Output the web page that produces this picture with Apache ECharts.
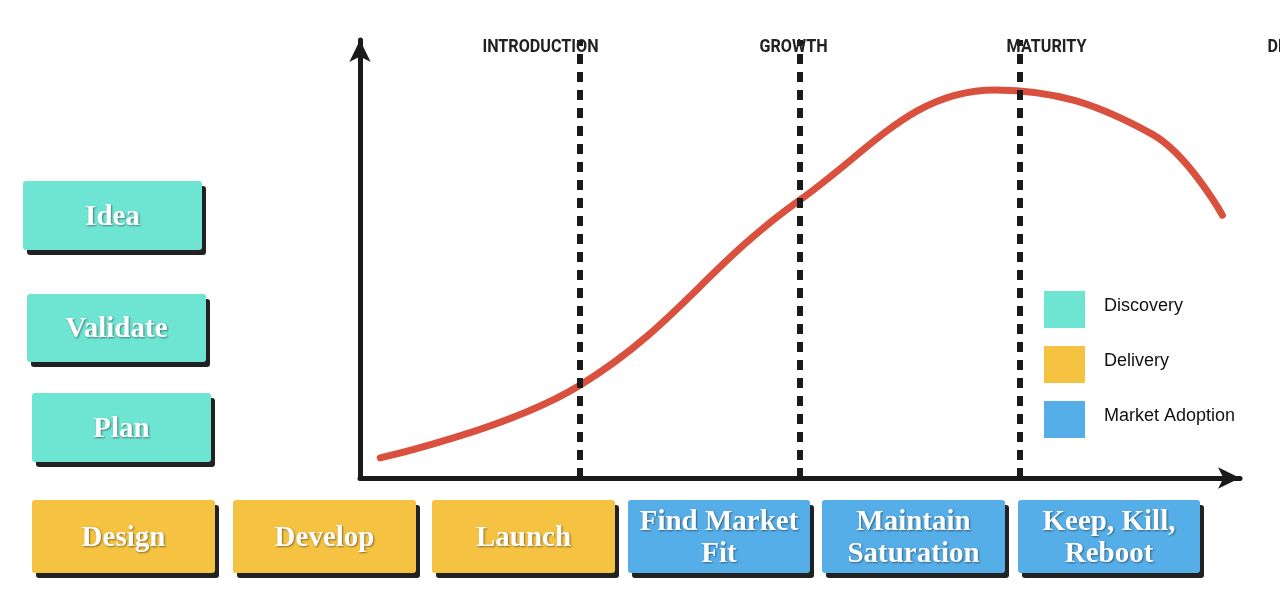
<!DOCTYPE html>
<html>
<head>
<meta charset="utf-8">
<script src="https://cdn.jsdelivr.net/npm/echarts@6/dist/echarts.min.js"></script>
<style>html,body{margin:0;background:#fff}#c{width:1280px;height:608px}</style>
</head>
<body>
<div id="c"></div>
<script>
// curve samples (x: time share, y: sales share)
const curveX = [2.3, 25, 50, 72.2, 90, 98]
const curveY = [4.6, 21.2, 63.5, 88.6, 78.5, 60]
const stageBounds = [25, 50, 75]
const stageNames = ['INTRODUCTION', 'GROWTH', 'MATURITY', 'DECLINE']
const boxLabels = ['Idea', 'Validate', 'Plan', 'Design', 'Develop', 'Launch', 'Find Market\nFit', 'Maintain\nSaturation', 'Keep, Kill,\nReboot']
const boxKinds = [0, 0, 0, 1, 1, 1, 2, 2, 2]
const legendNames = ['Discovery', 'Delivery', 'Market Adoption']

const colors = ['#6ee4d3', '#f5c242', '#56aee8']
// box rectangles [x, y, w, h]
const boxRects = [
  [23, 181, 179, 69], [27, 294, 179, 68], [32, 393, 179, 69],
  [32, 500, 183, 73], [233, 500, 183, 73], [432, 500, 183, 73],
  [628, 500, 182, 73], [822, 500, 183, 73], [1018, 500, 182, 73]
]

let graphic = []
boxRects.forEach((r, i) => {
  graphic.push({
    type: 'rect', shape: { x: r[0] + 4, y: r[1] + 5, width: r[2], height: r[3], r: 3 },
    style: { fill: '#222' }, z: 10
  })
  graphic.push({
    type: 'rect', shape: { x: r[0], y: r[1], width: r[2], height: r[3], r: 3 },
    style: { fill: colors[boxKinds[i]] }, z: 11
  })
  graphic.push({
    type: 'text', x: r[0] + r[2] / 2, y: r[1] + r[3] / 2 + 2, z: 12,
    style: {
      text: boxLabels[i], fill: '#fff', font: 'bold 29px "Liberation Serif"',
      align: 'center', verticalAlign: 'middle', lineHeight: 32,
      textShadowColor: 'rgba(0,0,0,0.45)', textShadowBlur: 2, textShadowOffsetX: 1, textShadowOffsetY: 1
    }
  })
})
stageNames.forEach((n, i) => {
  graphic.push({
    type: 'text', x: 470 + i * 220, y: 47, z: 12,
    style: { text: n, fill: '#222', font: 'bold 19px "Roboto"', align: 'center', verticalAlign: 'middle' },
    scaleX: 0.85, originX: 470 + i * 220
  })
})
legendNames.forEach((n, i) => {
  graphic.push({ type: 'rect', shape: { x: 1044, y: 291 + i * 55, width: 41, height: 37 }, style: { fill: colors[i] }, z: 12 })
  graphic.push({
    type: 'text', x: 1104, y: 306 + i * 55, z: 12,
    style: { text: n, fill: '#111', font: '18px "Liberation Sans"', verticalAlign: 'middle' }
  })
})

const chart = echarts.init(document.getElementById('c'))
chart.setOption({
  animation: false,
  grid: { left: 360, right: 40, top: 40, bottom: 130 },
  xAxis: {
    type: 'value', min: 0, max: 100,
    axisLine: { lineStyle: { color: '#1a1a1a', width: 5 }, symbol: ['none', 'arrow'], symbolSize: [16, 22] },
    axisTick: { show: false }, axisLabel: { show: false }, splitLine: { show: false }
  },
  yAxis: {
    type: 'value', min: 0, max: 100,
    axisLine: { show: true, lineStyle: { color: '#1a1a1a', width: 5 }, symbol: ['none', 'arrow'], symbolSize: [16, 22] },
    axisTick: { show: false }, axisLabel: { show: false }, splitLine: { show: false }
  },
  graphic: graphic,
  series: [{
    type: 'line', smooth: 0.4, showSymbol: false,
    data: curveX.map((x, i) => [x, curveY[i]]),
    lineStyle: { color: '#d9503f', width: 7, cap: 'round' },
    markLine: {
      symbol: 'none', silent: true, label: { show: false },
      lineStyle: { color: '#1a1a1a', type: [10, 8], width: 6 },
      data: stageBounds.map(b => [{ coord: [b, 0] }, { coord: [b, 100] }])
    }
  }]
})
</script>
</body>
</html>
